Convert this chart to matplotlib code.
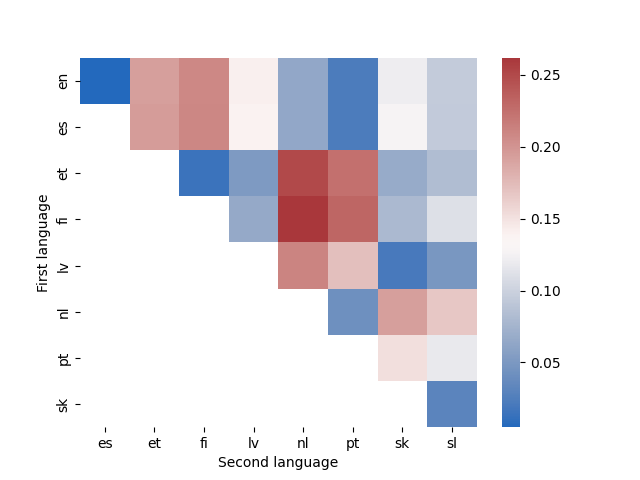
import numpy as np
import pandas as pd
import matplotlib
matplotlib.use('Agg')
import matplotlib.pyplot as plt
import seaborn as sns

first_langs = ['en', 'es', 'et', 'fi', 'lv', 'nl', 'pt', 'sk']
second_langs = ['es', 'et', 'fi', 'lv', 'nl', 'pt', 'sk', 'sl']

# upper triangle values, nan = masked
vals = [
    [0.005, 0.193, 0.2085, 0.1415, 0.064, 0.0228, 0.1208, 0.095],
    [np.nan, 0.195, 0.2096, 0.1394, 0.064, 0.0228, 0.127, 0.094],
    [np.nan, np.nan, 0.0145, 0.0517, 0.250, 0.224, 0.067, 0.0826],
    [np.nan, np.nan, np.nan, 0.066, 0.262, 0.2313, 0.0795, 0.1105],
    [np.nan, np.nan, np.nan, np.nan, 0.2116, 0.1724, 0.0207, 0.0486],
    [np.nan, np.nan, np.nan, np.nan, np.nan, 0.0413, 0.193, 0.1673],
    [np.nan, np.nan, np.nan, np.nan, np.nan, np.nan, 0.1518, 0.1177],
    [np.nan, np.nan, np.nan, np.nan, np.nan, np.nan, np.nan, 0.031],
]

df = pd.DataFrame(vals, index=first_langs, columns=second_langs)
df.index.name = 'First language'
df.columns.name = 'Second language'

fig = plt.figure(figsize=(6.4, 4.8), dpi=100)
ax = sns.heatmap(df, mask=df.isna(), cmap='vlag')
plt.savefig('out.png')
